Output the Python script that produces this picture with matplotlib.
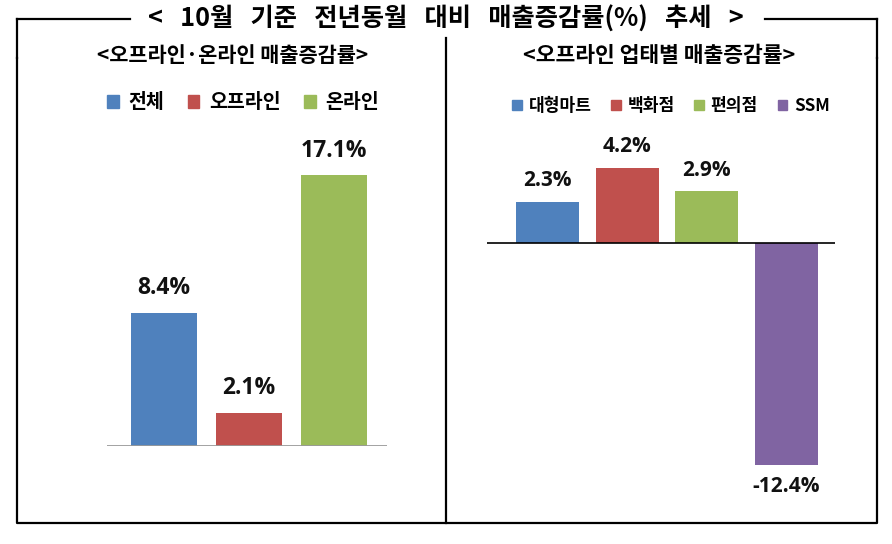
import matplotlib.pyplot as plt
from matplotlib.lines import Line2D
from matplotlib.patches import Patch

plt.rcParams['font.family'] = ['Noto Sans CJK KR', 'DejaVu Sans']

# data
left_cats = ["전체", "오프라인", "온라인"]
left_vals = [8.4, 2.1, 17.1]
right_cats = ["대형마트", "백화점", "편의점", "SSM"]
right_vals = [2.3, 4.2, 2.9, -12.4]
colors = ["#4F81BD", "#C0504D", "#9BBB59", "#8064A2"]

W, H = 892, 544
fig = plt.figure(figsize=(W / 100, H / 100), dpi=100)


def box(x0, y0, x1, y1):
    # pixel box (top-left origin) -> figure fraction
    return [x0 / W, 1 - y1 / H, (x1 - x0) / W, (y1 - y0) / H]


# frame lines
def fline(xs, ys, **kw):
    fig.add_artist(Line2D([x / W for x in xs], [1 - y / H for y in ys],
                          color="black", lw=1.6, **kw))


fline([17, 17, 877, 877], [58, 523, 523, 58])
fline([17, 17], [19, 58])
fline([877, 877], [19, 58])
fline([17, 130], [19, 19])
fline([765, 877], [19, 19])
fline([446, 446], [38, 523])

fig.text(446 / W, 1 - 19 / H, "<   10월   기준   전년동월   대비   매출증감률(%)   추세   >",
         ha="center", va="center", fontsize=18.2, fontweight="bold")
fig.text(233 / W, 1 - 55 / H, "<오프라인·온라인 매출증감률>",
         ha="center", va="center", fontsize=15, fontweight="bold")
fig.text(659 / W, 1 - 55 / H, "<오프라인 업태별 매출증감률>",
         ha="center", va="center", fontsize=15.5, fontweight="bold")

# left chart
ax1 = fig.add_axes(box(107, 153, 387, 446))
ax1.bar(range(len(left_vals)), left_vals, width=0.78, color=colors[:3])
ax1.set_xlim(-0.67, 2.62)
ax1.set_ylim(0, 18.5)
ax1.axhline(0, color="#999999", lw=2)
for i, v in enumerate(left_vals):
    ax1.text(i, v + 0.8, f"{v}%", ha="center", va="bottom",
             fontsize=16.5, fontweight="bold", color="#111111",
             family=["Open Sans", "DejaVu Sans"])
ax1.axis("off")
handles = [Patch(color=c) for c in colors[:3]]
fig.legend(handles, left_cats, loc="center", ncol=3, frameon=False,
           bbox_to_anchor=(243 / W, 1 - 103 / H), handlelength=0.6,
           handleheight=0.6, handletextpad=0.5, columnspacing=1.2,
           prop={"weight": "bold", "size": 14})

# right chart
ax2 = fig.add_axes(box(487, 153, 835, 485))
ax2.bar(range(len(right_vals)), right_vals, width=0.79, color=colors)
ax2.set_xlim(-0.76, 3.61)
ax2.set_ylim(-13.5, 5.05)
ax2.axhline(0, color="black", lw=1.2)
for i, v in enumerate(right_vals):
    if v >= 0:
        ax2.text(i, v + 0.6, f"{v}%", ha="center", va="bottom",
                 fontsize=15, fontweight="bold", color="#111111",
                 family=["Open Sans", "DejaVu Sans"])
    else:
        ax2.text(i, v - 0.6, f"{v}%", ha="center", va="top",
                 fontsize=15, fontweight="bold", color="#111111",
                 family=["Open Sans", "DejaVu Sans"])
ax2.axis("off")
handles = [Patch(color=c) for c in colors]
fig.legend(handles, right_cats, loc="center", ncol=4, frameon=False,
           bbox_to_anchor=(671 / W, 1 - 106 / H), handlelength=0.55,
           handleheight=0.55, handletextpad=0.4, columnspacing=1.15,
           prop={"weight": "bold", "size": 12.3})

fig.savefig("out.png", dpi=100)
